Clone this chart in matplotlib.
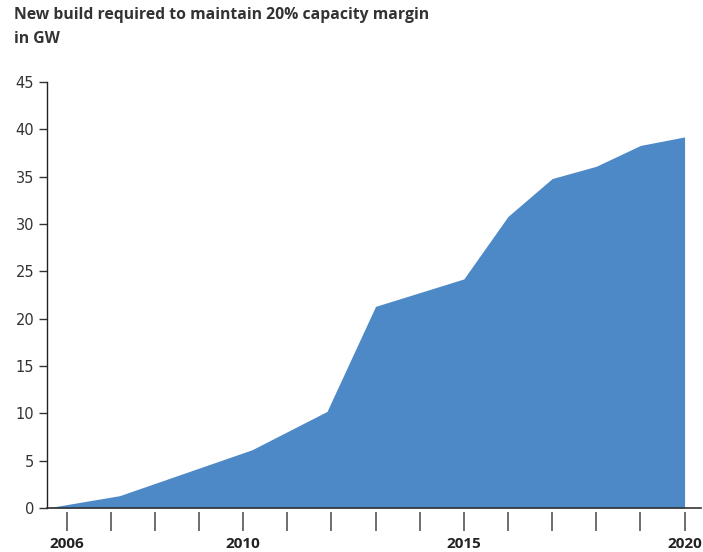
import matplotlib
matplotlib.use("Agg")
import matplotlib.pyplot as plt

# Data
years = [2005.55, 2007.2, 2010.2, 2011.9, 2013, 2015, 2016, 2017, 2018, 2019, 2020]
new_build_gw = [0.0, 1.3, 6.15, 10.2, 21.3, 24.2, 30.8, 34.8, 36.1, 38.3, 39.2]
tick_years = list(range(2006, 2021))
label_years = [2006, 2010, 2015, 2020]
y_ticks = list(range(0, 46, 5))
title = "New build required to maintain 20% capacity margin\nin GW"

fig = plt.figure(figsize=(7.03, 5.52), dpi=100)
ax = fig.add_axes([0.0664, 0.0797, 0.9306, 0.7717])

ax.fill_between(years, new_build_gw, 0, color="#4c89c6", linewidth=0)

ax.set_xlim(2005.55, 2020.37)
ax.set_ylim(0, 45)

for s in ["top", "right"]:
    ax.spines[s].set_visible(False)
ax.spines["left"].set_color("#222222")
ax.spines["bottom"].set_color("#333333")
ax.spines["left"].set_linewidth(1.0)
ax.spines["bottom"].set_linewidth(1.2)

ax.set_yticks(y_ticks)
ax.tick_params(axis="y", direction="out", length=6, width=1, color="#333333",
               labelsize=10.5, labelcolor="#333333", pad=3)

# x ticks drawn on a slightly lower secondary axis (gap below the baseline)
ax.set_xticks([])
sec = ax.secondary_xaxis(-0.009)
sec.spines["bottom"].set_visible(False)
sec.set_xticks(tick_years)
sec.set_xticklabels([str(y) if y in label_years else "" for y in tick_years],
                    fontfamily="Open Sans", fontweight="bold", fontsize=11,
                    color="#222222")
sec.tick_params(axis="x", direction="out", length=14, width=1.2, color="#555555", pad=4)

fig.text(0.020, 0.988, title, ha="left", va="top", fontfamily="Open Sans",
         fontweight="bold", fontsize=11.3, color="#333333", linespacing=1.7)

fig.savefig("out.png", dpi=100)
